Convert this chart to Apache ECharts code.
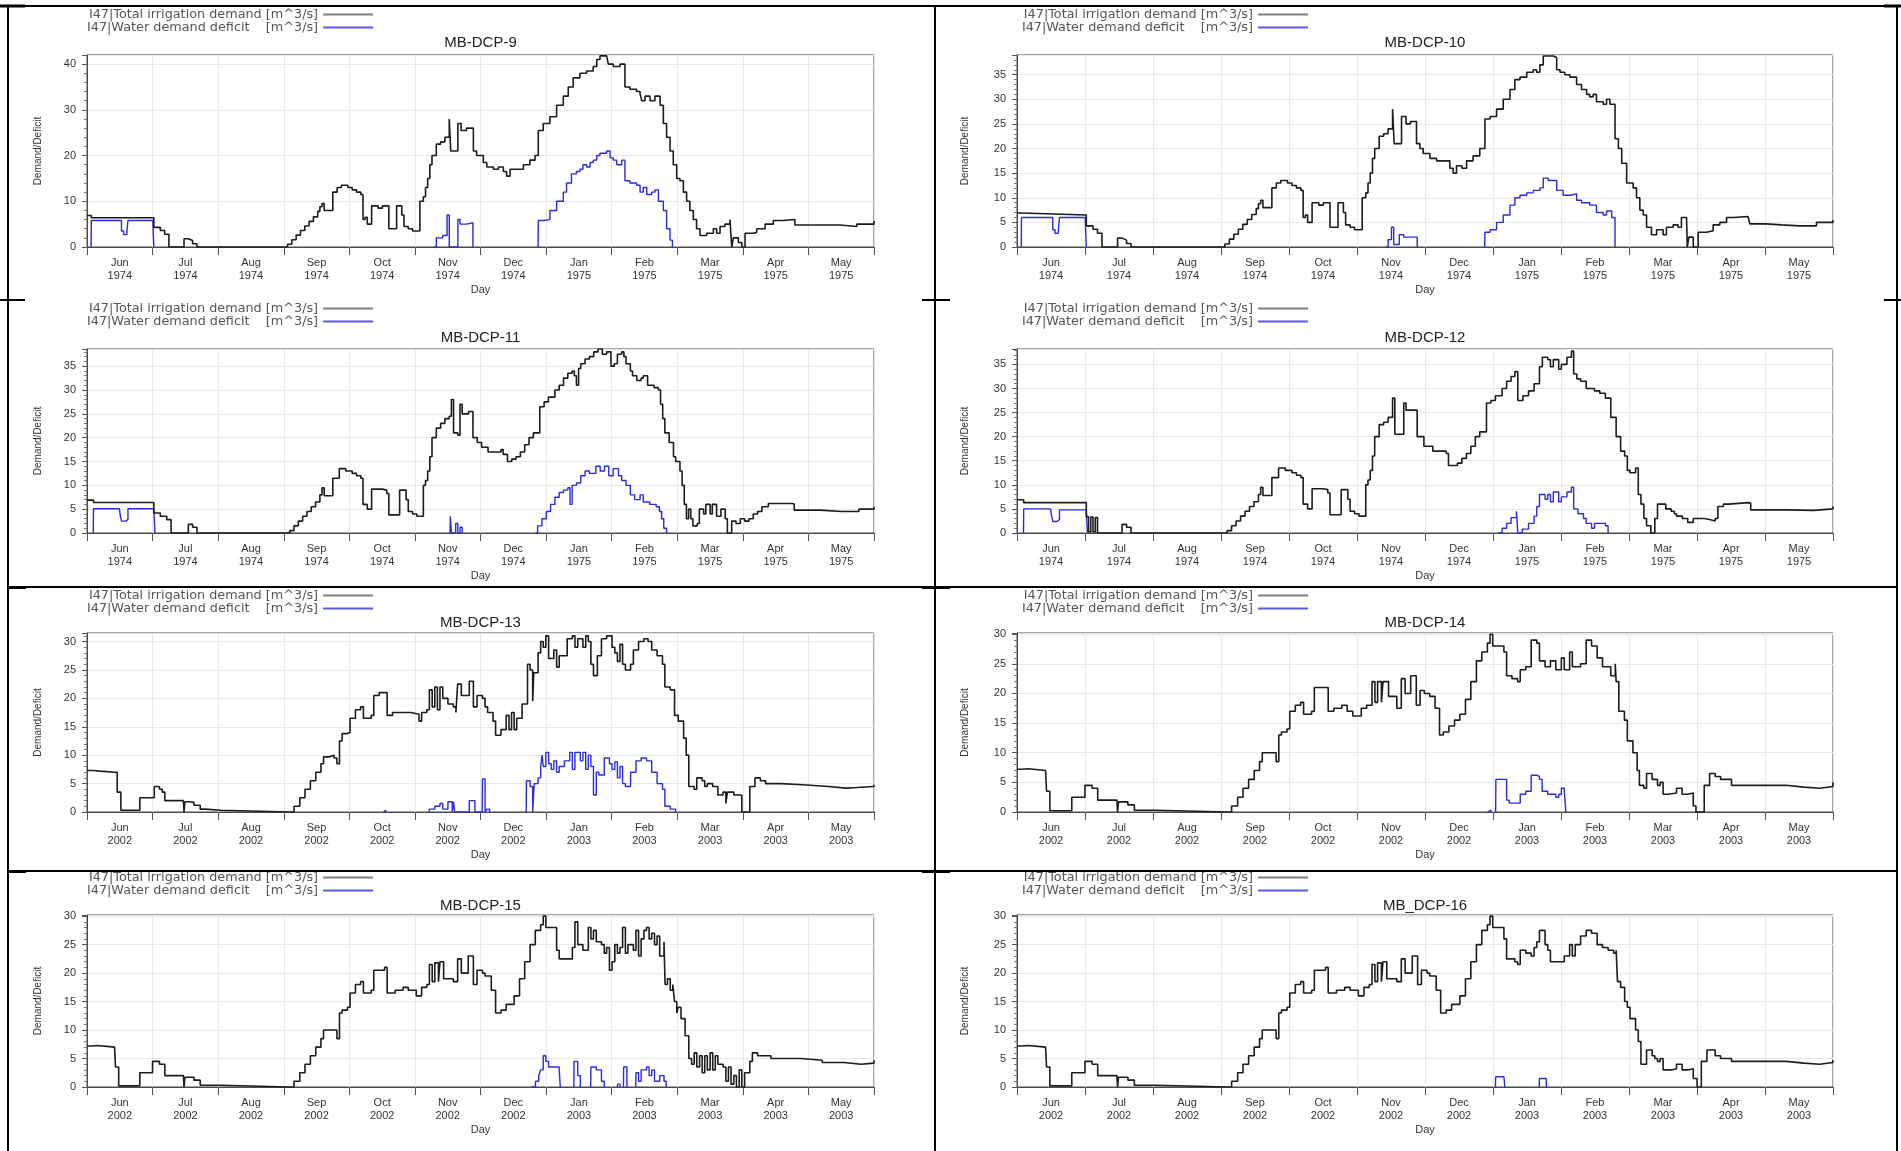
<!DOCTYPE html>
<html><head><meta charset="utf-8">
<script src="https://cdn.jsdelivr.net/npm/echarts@6/dist/echarts.min.js"></script>
<style>html,body{margin:0;padding:0;background:#fff}#c{width:1901px;height:1151px}</style>
</head><body><div id="c"></div>
<script>
// ---------------- DATA ----------------
const monthNames = ['Jun','Jul','Aug','Sep','Oct','Nov','Dec','Jan','Feb','Mar','Apr','May'];
const yearsA = ['1974','1974','1974','1974','1974','1974','1974','1975','1975','1975','1975','1975'];
const yearsB = ['2002','2002','2002','2002','2002','2002','2002','2003','2003','2003','2003','2003'];
const panelTitles = ['MB-DCP-9','MB-DCP-10','MB-DCP-11','MB-DCP-12','MB-DCP-13','MB-DCP-14','MB-DCP-15','MB_DCP-16'];
const seriesNames = ['I47|Total irrigation demand [m^3/s]','I47|Water demand deficit    [m^3/s]'];
const yMax = [42,39,38.6,38.2,31.5,30.2,30.2,30.2];
const yStep = [10,5,5,5,5,5,5,5];
// [day since 1 June, value]; null = break in the line
const total9 = [[0,6.9],[2,6.4],[31,4.3],[34,3.6],[36,2.8],[38,0],[45,1.8],[47,1.4],[49,0.7],[51,0],
[93,0.6],[95,1.6],[97,2.6],[99,3.6],[101,4.6],[103,5.6],[105,6.6],[107,7.8],[108,8.8],[109,9.5],[110,8],[114,12],[116,13],[118,13.5],[121,13],[123,12.5],[125,12],[127,11.5],[128,6],[129,6.5],[130,5],[132,9],[135,8.5],[137,9],[140,4],[143.6,9],[146,7],[147,4.5],[149,4],[151,3.5],[154.4,10],[156,11],[157,13],[158,15],[159,18],[160,20],[162,22.5],[164,23],[166,24],[168,28],[168.7,21],[171,21],[172,27],[173.5,25.5],[176,26],[179.2,21],[180.7,20],[183.8,18.5],[185.4,17.5],[188.5,17],[190.8,17.5],[193.1,16.5],[194.6,15.5],[196.2,17],[202.4,18],[205.4,19],[207.8,20],[209.3,25.5],[211.6,27],[214.7,28.5],[217.8,31],[220.9,33],[223.2,35],[225.5,37],[228.6,38],[231.7,38.5],[234.8,39.5],[236.4,41],[237.9,41.8],[241,41.5],[241.8,40],[244.1,39.5],[247.2,40],[249.5,35],[251.8,34.5],[254.9,34],[256.5,33.5],[257.3,32],[258.8,33],[261.1,32],[263.4,33],[265.8,31],[267.3,27],[268.8,24],[270.4,21],[271.9,18],[273.5,15],[275,14.5],[276.6,12],[278.1,10],[279.6,8],[281.2,6],[282.7,4],[284.3,2.5],[287.4,3],[290.5,4],[292,3],[293.6,4.5],[295.9,5],[298.2,6],[299,0],[299.8,2],[302.1,1],[303.7,0],[305.2,3],[309.1,3.2],[310.6,4],[314.5,5],[318.3,5.8],[322.9,6],[328.3,4.8],[349.2,4.5],[357,5],[365,5.7]];
const deficit9 = [[1.9,0],[2,5.8],[15,5.8],[16,3.5],[17,2.7],[18.5,3.5],[19,5.8],[30.5,5.8],[31,0],null,
[161,0],[162,2],[165,2.5],[167,7],[168,0],[172,6],[173,5],[176,5.3],[179,0],null,
[209.2,0],[209.3,5.8],[211.6,6],[214.7,8],[217.8,10],[220.9,12],[222.4,14],[224.7,16],[227,16.5],[228.6,17],[230,18],[231.7,17.5],[233.3,18.5],[234.8,19],[236.4,20],[237.9,20.5],[241,21],[242.6,19.5],[244.1,19],[245.7,18],[248,19],[249.5,14.5],[251.8,14],[254.9,13.5],[256.5,12],[258,13],[259.6,11.5],[261.9,12],[263.4,12.5],[265,10],[267.3,8],[268.8,4],[270.4,1.5],[271.5,0]];
const total10 = [[0,6.9],[2,6.5],[31,4.3],[34,3.6],[36,2.8],[38,0],[45,1.8],[47,1.4],[49,0.7],[51,0],
[93,0.6],[95,1.6],[97,2.6],[99,3.6],[101,4.6],[103,5.6],[105,6.6],[107,7.8],[108,8.8],[109,9.5],[110,8],[114,12],[116,13],[118,13.5],[121,13],[123,12.5],[125,12],[127,11.5],[128,6],[129,6.5],[130,5],[132,9],[135,8.5],[137,9],[140,4],[143.6,9],[146,7],[147,4.5],[149,4],[151,3.5],[154.4,10],[156,11],[157,13],[158,15],[159,18],[160,20],[162,22.5],[164,23],[166,24],[168,28],[168.7,21],[171,21],[172,26.5],[174,25],[176,25.5],[178.7,21],[180.2,20],[181.7,19],[184.7,18],[187.7,17.5],[192,17.5],[193.6,16],[195.1,15],[196.6,16.5],[199,16],[201.1,17.5],[204,18.5],[207,20],[209.3,26],[211.6,26.5],[214.5,28],[217.5,30],[220.5,32],[222.7,34],[225,34.5],[228,35.5],[230.9,36],[232.4,35.5],[233.9,37],[235.4,38.8],[239.9,38.5],[241.4,36],[242.9,35.5],[245,35],[247.3,34.5],[250.3,33],[252.5,32],[254.8,31],[256.2,30.5],[257.7,31],[259.2,29.5],[262.2,29],[263.7,30],[265.2,29],[267.5,22],[269,20],[270.5,17],[272.7,13],[275.6,12],[277.1,10],[278.6,7.5],[280.1,6.5],[281.6,4],[283.8,2.5],[286.1,3.5],[289,2.5],[290.5,4],[293.5,4.5],[295.7,4],[297.2,6],[299.5,6],[299.8,0],[300.5,2],[302.5,0],[304.7,3],[308.5,3.3],[311.4,4.5],[314.4,5],[317.4,6],[320.4,6.2],[327,6.2],[327.8,4.7],[335,4.5],[342,4.3],[350,4.3],[357.6,5],[365,5.5]];
const deficit10 = [[1.9,0],[2,6],[15,6],[16,3.5],[17,2.8],[18.5,3.5],[19,6],[30.5,6],[31,0],null,
[165,0],[166,1.5],[167.5,4],[168.5,0.5],[171,2.5],[173,2],[175,2],[179,0],null,
[209.2,0],[209.3,3],[211.6,3.5],[214.5,5],[217.5,6.5],[220.5,8.5],[222.7,10],[225,10.5],[228,11],[230.9,11.5],[233.9,12],[235.4,14],[237.6,13.5],[239.9,13.5],[241.4,11.5],[244.3,10.5],[247.3,10.8],[250.3,9.5],[252.5,9],[256.2,8.5],[259.2,7],[262.2,6.5],[263.7,7.3],[266,6],[267.5,0]];
const total11 = [[0,6.9],[3,6.4],[31,4.2],[34,3.5],[37,2.8],[39,0],[47,1.8],[49,1.2],[51,0],
[94,0.5],[96,1.5],[98,2.5],[100,3.5],[102,4.5],[104,5.5],[106,6.5],[108,8],[109,9.5],[110,7.8],[114,11.5],[117,13.5],[120,13],[123,12.5],[125,12],[127,11.5],[128,6],[130,5],[132,9.2],[137,9],[139,8.3],[140,3.8],[145,9],[147,9],[148,7],[149,4.5],[151,4],[153,3.5],[156,10],[157,11],[158,13],[159,16],[160,20],[162,22],[164,23],[166,24],[168,24.5],[169,28],[170,21],[172,20.5],[173,27],[174,25],[177,25.5],[179,20],[181,19],[183,18],[186,17],[190,17],[192,17.5],[193,16.5],[195,15],[197,15.5],[199,16],[201,17],[203,18.5],[205,20],[207,21],[210,26.5],[212,27.5],[214,28.5],[217,30],[219,31],[221,32.5],[223,33.5],[225,34],[226,33],[227,31],[228,34.5],[229,35.5],[231,36.5],[233,37],[235,38],[237,38.6],[239,37.5],[241,38],[243,35],[244.5,35.5],[246,37.5],[248,38],[249,37],[250,35.5],[252,34],[253,33],[255,32],[257,32.5],[258,33],[260,31],[263,30.5],[265,30],[266,27],[267,24],[268,21],[270,19],[272,16],[273,15],[275,13],[276,10],[277,6],[278,3],[279,5],[280,3],[281,1.5],[283,2],[284,5],[286,4],[287,6],[289,4],[290,6],[292,3.5],[294,5],[296,3],[297,0],[299,2.5],[301,2],[303,3],[305,2.5],[307,3],[309,4],[311,4.5],[313,5.5],[316,6.2],[327,6.1],[328,4.8],[340,4.5],[350,4.5],[358,5],[365,5.5]];
const deficit11 = [[2.9,0],[3,5.1],[15,5.1],[15.5,3.5],[16,2.5],[18,2.8],[19,5.1],[31,5.1],[31.5,0],null,
[168.4,0],[168.5,3.5],[169,0],[171,2],[172,0],[173,1.2],[174,0],null,
[208,0],[209,1.5],[211,3],[213,4.5],[215,6],[217,7.5],[219,8.5],[221,9],[223,9.5],[224,6],[225,10],[227,10.5],[229,12],[231,13],[233,12.5],[236,14],[238,13],[240,14],[242,12],[244,13.5],[246.5,12],[248,11],[250,10],[252,8],[254,7],[256.5,8],[258,6.5],[261,6],[264,5.5],[265.5,4.5],[266.5,3],[267.5,1],[268.8,0]];
const total12 = [[0,6.9],[3,6.3],[31,3.4],[32,0.2],[33,3.3],[34,0.2],[35,3.2],[36,0],[47,1.8],[49,1.2],[51,0],
[94,0.5],[96,1.5],[98,2.5],[100,3.5],[102,4.5],[104,5.5],[106,6.5],[108,8],[109,9.5],[110,7.8],[114,11.5],[117,13.5],[120,13],[123,12.5],[125,12],[127,11.5],[128,6],[130,5],[132,9.2],[137,9],[139,8.3],[140,3.8],[145,9],[147,9],[148,7],[149,4.5],[151,4],[153,3.5],[156,10],[157,11],[158,13],[159,16],[160,20],[162,22.5],[164,23],[166,24],[168,28],[169,20.5],[172,20.5],[173,27],[174,25.5],[177,25.5],[179,20],[182,18],[186,17],[192,16.5],[193,14],[197,14.5],[199,15.5],[201,16.5],[203,18],[205,20],[207,21],[210,27],[212,27.5],[214,28.5],[217,30],[219,31.5],[221,32.5],[222.7,33.5],[224,27.5],[226.3,28.5],[228.8,29.5],[231.3,31],[233.7,34.5],[235,36.5],[237.4,36],[238.6,34.5],[239.9,36],[242.3,34],[243.5,35],[246,36.5],[248,37.8],[249,33],[250.4,32],[252.1,31.5],[254.6,30],[258.3,29.5],[260.7,29],[263.2,28],[265.6,24],[268,20],[270,17],[271.8,16],[273,13],[274.2,12.5],[276.7,13.5],[277.9,8],[279.1,6],[280.4,3],[281.6,1.5],[283.5,0],[285.3,3],[286.5,6],[289,6],[290.2,5],[292.6,4.5],[294,4],[295,3.5],[297.6,3],[300,2.2],[302.5,3],[307.4,2.8],[309.8,2.5],[312.3,3],[313.5,5.5],[316,6],[318.4,6.3],[327,6.2],[328.2,4.8],[344,4.7],[356.5,5],[365,5.5]];
const deficit12 = [[2.9,0],[3,5],[15,5],[15.5,3.5],[16,2.4],[18,2.8],[19,4.8],[31,4.8],[31.5,0],null,
[215.3,0],[217,1],[219,2],[221,3.2],[223.4,4.5],[224,0],[226,0.8],[228.8,2],[231.3,3.5],[232.5,5.5],[233.7,8],[236.2,7],[237.4,8],[238.6,6.5],[239.9,8.5],[242.3,6.5],[243.5,7.5],[246,8.5],[248,9.5],[249,5],[250.9,4],[253.4,3],[254.6,2],[257,1],[258.3,2],[262,2],[263.2,1.5],[264.4,0]];
const total13 = [[0,7.3],[3,7.2],[6,7],[12.8,7],[14,3.5],[15.7,0.3],[24.5,2.5],[31.2,4.5],[33.6,4],[34.9,3.5],[36.1,2],[44.7,2],[45,0],[45.4,1.8],[47.5,1.7],[49.6,1.2],[52.5,0.5],[55,0.3],[62,0],
[93.8,0],[96,1],[98.7,2.5],[101.1,4],[103.6,5.5],[106.1,7],[108.5,8.5],[109.7,9.7],[112.2,10],[114.6,9.5],[115.9,8.5],[117.1,12.5],[118.3,13.8],[120.8,14],[122,16.5],[124.5,18],[126.9,18.5],[128.2,16.5],[131.8,17],[133,20.5],[135.5,21],[139.2,17],[141.7,17.5],[150.2,17.2],[154,16],[155.2,17.5],[157.6,18],[158.8,21.5],[160.1,18.5],[161.3,22],[162.5,18],[163.7,22],[165,20],[167.4,19],[169.9,18.5],[171.1,17.5],[171.9,22.5],[173.6,20.5],[177.3,23],[179.2,18.5],[180.9,20.5],[183.4,20],[184.6,18.5],[185.8,17.5],[188.3,16],[189.5,13.5],[192,14.5],[194.4,17],[195.7,14.5],[196.9,17.5],[198.1,14.5],[199.3,16.5],[201.8,19],[204.3,26],[205.5,25],[206.7,19.5],[207.2,24.5],[209.2,28],[210.4,30],[211.6,29],[212.8,31],[214.1,27],[216.5,28.5],[217.8,25.5],[219,27.5],[222.7,30.5],[225.1,31],[226.3,29],[227.6,30.5],[230,29],[231.3,31],[232.5,30],[233.7,26],[234.9,24],[236.7,27.5],[238.6,30.5],[241,31],[243.5,29],[244.8,28],[246,26.5],[247.2,29.5],[248.4,26],[249.7,25],[252.1,26],[253.4,28.5],[255.8,30],[258.3,30.5],[260.2,30],[261.9,28.5],[264.4,27.5],[266.9,26],[268,22],[270.5,21.5],[272.5,17],[274.2,16],[276.7,13],[277.9,10],[279.1,4.5],[281.6,4],[282.8,6],[285.3,5.5],[286.5,4.5],[287.7,5],[290.2,4.5],[292.6,3],[295,3.5],[296.3,1.5],[297,3.5],[300,3],[303.7,0],[307.4,4.5],[309.8,6],[312.3,5.5],[314.7,5],[322,4.8],[332,4.5],[344,4.2],[352,4.3],[357,4.5],[365,4.8]];
const deficit13 = [[137.5,0],[137.6,0.3],[138.5,0],null,
[158.7,0],[158.8,0.5],[161.3,1],[163.7,1.5],[165,0.5],[167.4,1.8],[169.4,0],[170,1.8],[170.5,0],[177.3,2],[179.9,0],[183.3,0],[183.4,5.8],[184.6,0],[185.5,0.5],[186.7,0],null,
[203.7,0],[203.8,5.5],[205.5,4.5],[206.7,0],[207.4,5],[209.2,6],[210.4,8],[211.1,10],[211.6,8],[212.8,10.5],[214.1,8.5],[215.3,7.5],[216.5,9],[217.8,7],[219,8],[221.4,9],[223.9,10.5],[225.1,7.5],[226.3,10.5],[228.8,9],[230,10.5],[231.3,7.5],[232.5,10],[233.7,8],[234.9,3],[236.2,7],[237.4,6.5],[239.9,9.5],[242.3,8.5],[243.5,7.5],[244.8,8.8],[246,6],[247.2,8],[248.4,5],[249.7,4.5],[252.1,7],[254.6,9],[257,9.5],[259.5,9],[261.9,7],[264.4,5],[266.9,4],[268,1],[270.5,0.5],[273,0]];
const total14 = [[0,7.2],[2,7.3],[5,7],[12.8,7],[13.2,3.5],[14.7,0.2],[24.5,2.5],[30.4,4.5],[33.6,4],[36.1,2],[44.7,1.8],[45,0],[45.4,1.7],[49.6,1.2],[52.5,0.3],[62,0],
[93.8,0],[96,1],[98.7,2.5],[101.1,4],[103.6,5.5],[106.1,7],[108.5,8.5],[109.7,10],[114.6,10],[115.9,8.5],[117.1,13],[118.3,13.5],[120.8,14],[122,17],[124.5,18],[126.9,18.5],[128.2,16.5],[131.8,17],[133,21],[138,21],[139.2,17],[141.7,17.5],[145.3,18],[147.7,17],[150.2,16.2],[154,17.5],[156.4,18],[158.8,22],[160.1,18.5],[161.3,22],[163,18.5],[163.7,22],[166.2,19.5],[169.9,17.5],[171.9,22.5],[173.6,20],[176.1,23],[178.6,18],[180.3,20.5],[182.2,20],[184.6,19.5],[187,17.5],[189,13],[190.7,13.5],[193.2,14.5],[195.7,15.5],[198.1,16.5],[200.6,19],[203,22],[205.5,25.5],[207.9,27],[210.4,28.5],[211.6,30],[212.8,28],[217.8,27],[219,23],[221.4,22.5],[223.9,22],[225.1,24],[227.6,24.5],[230,29],[232.5,28.5],[233.7,25.5],[236.2,24.5],[238.6,25.5],[241,24],[243.5,26],[244.8,24],[247.2,27],[248.4,24.5],[252.1,25],[254.6,29],[257,28],[259.5,26],[261.9,24.5],[265.6,23],[267.6,25],[268,22],[269.2,17],[271.7,15.5],[273,12],[275.5,10],[277.4,7],[278.4,4.5],[280.4,4],[281.6,6.5],[284.1,5.5],[286.5,4.5],[287.7,5],[289,3],[291.4,3.2],[295,4],[297.5,3],[300,3.2],[302.5,1],[303.7,0],[307.4,4.5],[309.8,6.5],[312.3,6],[314.7,5.5],[319.6,4.5],[332,4.5],[344,4.2],[352,4],[359,4.3],[365,5]];
const deficit14 = [[210.5,0],[211,0.3],[212,0],null,
[214.1,0],[214.2,5.5],[217.8,5.5],[219,2],[220.2,1.5],[223.9,1.5],[225.1,3],[227.6,3.5],[230,6.2],[232.5,6],[233.7,5.5],[234.9,3.5],[237.4,3],[239.9,3],[241,2.5],[242.3,3],[243.5,4],[244.8,3.5],[245.5,0]];
const total15 = [[0,7.2],[2,7.3],[5,7],[12.8,7],[13.2,3.5],[14.7,0.2],[24.5,2.5],[30.4,4.5],[33.6,4],[36.1,2],[44.7,1.8],[45,0],[45.4,1.7],[49.6,1.2],[52.5,0.3],[62,0],
[93.8,0],[96,1],[98.7,2.5],[101.1,4],[103.6,5.5],[106.1,7],[108.5,8.5],[109.7,10],[114.6,10],[115.9,8.5],[117.1,13],[118.3,13.5],[120.8,14],[122,16.5],[124.5,18],[126.9,18.5],[128.2,16.5],[131.8,17],[133,20.5],[138,21],[139.2,16.5],[142.9,17],[146.6,17.5],[149,17],[152.7,16],[155.2,17.5],[157.6,18],[158.8,21.5],[160.1,18.5],[161.3,21.8],[163,18.5],[163.7,22],[165.4,19],[169.9,18.5],[171.9,22.5],[173.6,20],[176.8,23],[179.2,18],[180.9,20.5],[183.4,20],[184.6,19.5],[187.5,17],[189.5,13],[192,13.5],[194.4,14.5],[198.1,16],[200.6,19],[203,22],[205.5,25],[207.9,27.5],[210.4,28.5],[211.6,30],[212.8,28],[216.5,28],[217.8,24],[219,22.5],[223.9,22.5],[225.1,24.5],[226.3,29],[227.6,25],[230,24],[232.5,28],[233.7,26],[234.9,27.5],[236.2,25.5],[238.6,25],[239.9,23.5],[241,24.5],[242.3,20.5],[243.5,22],[244.8,25],[246,23.5],[247.2,24.5],[248.4,28],[249.7,23.5],[250.9,25],[253.4,24],[254.6,27.5],[255.8,23],[257,26],[258.3,27.5],[259.5,28],[260.7,26],[261.9,27],[263.2,25],[264.4,26.5],[265.6,23],[267.6,25.5],[268.1,18],[269.2,19],[270.5,17],[271.7,18],[272.5,15],[273.5,13],[274.2,14],[275.5,12],[277.4,9],[279.1,5],[280.4,4],[281.6,6],[282.8,3.5],[284.1,5.5],[285.3,2.5],[286.5,5.5],[287.7,3],[289,6],[290.2,3],[291.4,5.5],[292.6,4],[295,3.5],[296.3,1],[297.5,3.5],[298.7,0.5],[300,2],[301.2,0],[302.5,3],[303.7,0],[305,2.5],[307.4,4.5],[308.6,6],[311,5.5],[315,5.5],[317.2,5],[331,4.7],[341,4.3],[351,4],[359,4.2],[365,4.7]];
const deficit15 = [[206.2,0],[208,1],[209.5,2],[210.4,3],[211.6,5.5],[212.8,4.5],[214.1,3.5],[216.5,3.5],[219,3],[219.5,0],null,
[225.8,0],[225.9,4.5],[227.6,2],[228.8,0],null,
[233.6,0],[233.7,3.5],[236.2,3],[238.6,1],[239.9,0],null,
[246,0],[246.1,0.5],[247.2,0],null,
[248.8,0],[248.9,3.5],[250.4,0],null,
[254.5,0],[254.6,2.5],[255.8,1],[257,3],[259.5,3.5],[260.7,2],[261.9,3],[263.2,1],[265.6,2],[267.6,1],[268.6,0]];
const total16 = [[0,7.2],[2,7.3],[5,7],[12.8,7],[13.2,3.5],[14.7,0.2],[24.5,2.5],[30.4,4.5],[33.6,4],[36.1,2],[44.7,1.8],[45,0],[45.4,1.7],[49.6,1.2],[52.5,0.3],[62,0],
[93.8,0],[96,1],[98.7,2.5],[101.1,4],[103.6,5.5],[106.1,7],[108.5,8.5],[109.7,10],[114.6,10],[115.9,8.5],[117.1,13],[118.3,13.5],[120.8,14],[122,16.5],[124.5,18],[126.9,18.5],[128.2,16.5],[131.8,17],[133,20.5],[138,21],[139.2,16.5],[142.9,17],[146.6,17.5],[149,17],[152.7,16],[155.2,17.5],[157.6,18],[158.8,21.5],[160.1,18.5],[161.3,21.8],[163,18.5],[163.7,22],[165.4,19],[169.9,18.5],[171.9,22.5],[173.6,20],[176.8,23],[179.2,18],[180.9,20.5],[183.4,20],[184.6,19.5],[187.5,17],[189.5,13],[192,13.5],[194.4,14.5],[198.1,16],[200.6,19],[203,22],[205.5,25],[207.9,27.5],[210.4,28.5],[211.6,30],[212.8,28],[217.8,26],[219,22.5],[222.7,22],[223.9,21.5],[225.1,24],[227.6,23.5],[230,23],[231.3,24.5],[232.5,25.5],[233.7,27.5],[236.2,25],[237.4,24],[238.6,22],[243.5,22],[244.8,23],[247.2,25],[248.4,23],[249.7,25],[252.1,26.5],[254.6,27.5],[257,27],[259.5,25],[261.9,24.5],[264.4,24],[266.9,23.5],[268,24],[268.6,18.5],[270,17.5],[271.8,15],[273,14],[274.2,12],[276.7,10],[277.9,8],[279.1,4],[281.6,6.5],[284.1,5.5],[285.3,5],[286.5,4.5],[287.7,5],[289,3],[292.6,3.2],[295,4],[297.5,3],[300,3.2],[302.5,1.5],[304.2,0],[306.1,4.5],[308.6,6.5],[312.3,5.5],[314.7,5],[319.6,4.5],[332,4.5],[344,4.2],[352,4],[359,4.3],[365,4.7]];
const deficit16 = [[214,0],[214.1,1.8],[217.8,1.8],[218.2,0],null,
[233.6,0],[233.7,1.5],[236.7,1.5],[236.8,0]];

const totals = [total9,total10,total11,total12,total13,total14,total15,total16];
const deficits = [deficit9,deficit10,deficit11,deficit12,deficit13,deficit14,deficit15,deficit16];

// ---------------- LAYOUT ----------------
const colX = [{l:87,r:874,nameX:38,legW:228},{l:1017,r:1833,nameX:965,legW:236}];
const rowY = [{t:55,b:247,title:43,leg:13},{t:349,b:533,title:338,leg:307},{t:633,b:812,title:623,leg:594},{t:915,b:1087,title:906,leg:876}];
const tableLines = [
  [8,6,1897,6,2],[0,6,25,6,3],[1884,6,1901,6,3],
  [8,6,8,1151,2],[935,6,935,1151,2],[1897,6,1897,1151,2],
  [0,300,25,300,2],[922,300,950,300,2],[1884,300,1901,300,2],
  [8,587,1897,587,2],[8,588,26,588,2],[922,588,950,588,2],
  [8,871,1897,871,2],[8,872,26,872,2],[922,872,950,872,2]
];
const FONT = 'Liberation Sans';

function toSeriesData(arr){
  const out = [];
  for (let k=0;k<arr.length;k++){
    const p = arr[k];
    if (p === null) { out.push([arr[k-1][0]+0.01,'-']); }
    else out.push(p);
  }
  return out;
}

const grid=[], xAxis=[], yAxis=[], series=[], title=[], legend=[];
for (let i=0;i<8;i++){
  const row = Math.floor(i/2), col = i%2;
  const cx = colX[col], ry = rowY[row];
  const years = row<2 ? yearsA : yearsB;
  const cats = monthNames.map((m,k)=>m+'\n'+years[k]);
  grid.push({left:cx.l, top:ry.t, width:cx.r-cx.l, height:ry.b-ry.t, show:true, borderColor:'#4a4a4a', borderWidth:1});
  xAxis.push({type:'category', gridIndex:i, data:cats, boundaryGap:true,
    name:'Day', nameLocation:'middle', nameGap:37, nameTextStyle:{fontSize:11,color:'#333',fontFamily:FONT},
    axisLine:{show:true,lineStyle:{color:'#4a4a4a',width:1}},
    axisTick:{show:true,length:8,lineStyle:{color:'#555'}},
    axisLabel:{fontSize:11,color:'#333',lineHeight:13,margin:9,fontFamily:FONT},
    splitLine:{show:true,lineStyle:{color:'#e8e8e8',width:1}}});
  xAxis.push({type:'value', gridIndex:i, min:0, max:365, show:false});
  const step = yStep[i];
  yAxis.push({type:'value', gridIndex:i, min:0, max:yMax[i], interval:step,
    name:'Demand/Deficit', nameLocation:'middle', nameGap:cx.l-cx.nameX-5,
    nameTextStyle:{fontSize:10,color:'#333',fontFamily:'Liberation Sans Narrow, '+FONT},
    axisLine:{show:true,lineStyle:{color:'#4a4a4a'}},
    axisTick:{show:true,length:5,lineStyle:{color:'#555'}},
    minorTick:{show:true,splitNumber:5,length:3,lineStyle:{color:'#777'}},
    axisLabel:{fontSize:11,color:'#333',margin:11,fontFamily:FONT,
      formatter:v=> (Math.abs(v/step-Math.round(v/step))<1e-6 ? String(v) : '')},
    splitLine:{show:true,lineStyle:{color:'#e8e8e8'}}});
  title.push({text:panelTitles[i], left:(cx.l+cx.r)/2, top:ry.title-8, textAlign:'center', padding:0,
    textStyle:{fontSize:15,fontWeight:'normal',color:'#222',fontFamily:FONT}});
  legend.push({left:cx.l, top:ry.leg-5, orient:'vertical', align:'right', itemGap:0, itemWidth:50, itemHeight:2,
    icon:'rect', padding:0, selectedMode:false,
    textStyle:{fontSize:12.8,lineHeight:11,color:'#555',width:cx.legW,fontFamily:'DejaVu Sans'},
    data:[{name:seriesNames[0],itemStyle:{color:'#808080'}},{name:seriesNames[1],itemStyle:{color:'#5a5ae6'}}]});
  series.push({type:'line', name:seriesNames[1], xAxisIndex:2*i+1, yAxisIndex:i, step:'end', symbol:'none',
    data:toSeriesData(deficits[i]), lineStyle:{color:'#2b2bd8',width:1.4}, itemStyle:{color:'#2b2bd8'}, z:2, animation:false, connectNulls:false});
  series.push({type:'line', name:seriesNames[0], xAxisIndex:2*i+1, yAxisIndex:i, step:'end', symbol:'none',
    data:toSeriesData(totals[i]), lineStyle:{color:'#1c1c1c',width:1.6}, itemStyle:{color:'#1c1c1c'}, z:3, animation:false});
}

const graphic = tableLines.map(l=>({type:'line', shape:{x1:l[0],y1:l[1],x2:l[2],y2:l[3]}, style:{stroke:'#000',lineWidth:l[4]}, z:10}));

const chart = echarts.init(document.getElementById('c'), null, {renderer:'canvas'});
chart.setOption({backgroundColor:'#fff', animation:false, grid, xAxis, yAxis, title, legend, series, graphic});
</script></body></html>
